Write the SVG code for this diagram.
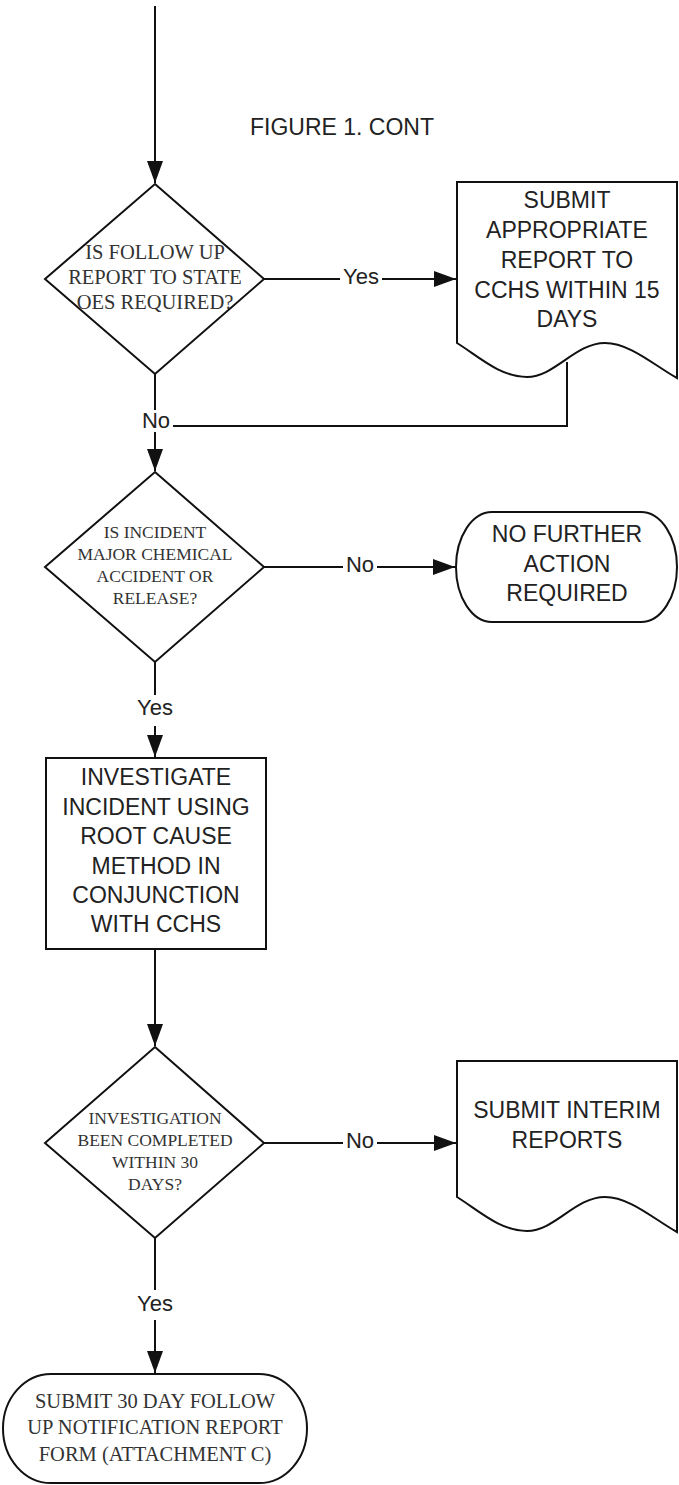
<svg xmlns="http://www.w3.org/2000/svg" width="679" height="1485" viewBox="0 0 679 1485">
<style>
.shape{fill:#fff;stroke:#111;stroke-width:2}
.conn{fill:none;stroke:#111;stroke-width:2}
.sans{font-family:"Liberation Sans",Arial,sans-serif;font-size:23px;fill:#222;text-anchor:middle}
.serif{font-family:"Liberation Serif","Times New Roman",serif;fill:#333;text-anchor:middle}
.lbl{font-family:"Liberation Sans",Arial,sans-serif;font-size:22px;fill:#222;text-anchor:middle}
.bg{fill:#fff}
</style>
<defs>
<marker id="arr" markerUnits="userSpaceOnUse" markerWidth="22" markerHeight="16" refX="22" refY="8" orient="auto">
<path d="M0,0 L22,8 L0,16 Z" fill="#111"/>
</marker>
</defs>
<rect width="679" height="1485" fill="#fff"/>
<text x="250" y="135" font-family="'Liberation Sans',Arial,sans-serif" font-size="23" fill="#222">FIGURE 1. CONT</text>

<g id="connectors">
<path class="conn" d="M155,6 V183" marker-end="url(#arr)"/>
<path class="conn" d="M264,279 H456" marker-end="url(#arr)"/>
<path class="conn" d="M567,362 V426 H155"/>
<path class="conn" d="M155,374 V471" marker-end="url(#arr)"/>
<path class="conn" d="M264,567 H455" marker-end="url(#arr)"/>
<path class="conn" d="M155,662 V757" marker-end="url(#arr)"/>
<path class="conn" d="M155,949 V1046" marker-end="url(#arr)"/>
<path class="conn" d="M264,1143 H456" marker-end="url(#arr)"/>
<path class="conn" d="M155,1238 V1373" marker-end="url(#arr)"/>
<rect class="bg" x="340" y="266" width="42" height="22"/>
<text class="lbl" x="361" y="284">Yes</text>
<rect class="bg" x="138" y="410" width="35" height="22"/>
<text class="lbl" x="156" y="428">No</text>
<rect class="bg" x="343" y="556" width="34" height="22"/>
<text class="lbl" x="360" y="572">No</text>
<rect class="bg" x="134" y="695" width="42" height="31"/>
<text class="lbl" x="155" y="715">Yes</text>
<rect class="bg" x="343" y="1132" width="34" height="22"/>
<text class="lbl" x="360" y="1148">No</text>
<rect class="bg" x="134" y="1290" width="42" height="30"/>
<text class="lbl" x="155" y="1311">Yes</text>
</g>

<g id="decision1">
<polygon class="shape" points="155,184 264,279 155,374 45,279"/>
<text class="serif" font-size="20.5"><tspan x="155" y="259">IS FOLLOW UP</tspan><tspan x="155" y="284">REPORT TO STATE</tspan><tspan x="155" y="309">OES REQUIRED?</tspan></text>
</g>

<g id="doc1">
<path class="shape" d="M457,182 H677 V378 C655,366 630,343 605,343 C575,343 555,377 527,377 C500,377 478,356 457,343 Z"/>
<text class="sans"><tspan x="567" y="208">SUBMIT</tspan><tspan x="567" y="238">APPROPRIATE</tspan><tspan x="567" y="268">REPORT TO</tspan><tspan x="567" y="298">CCHS WITHIN 15</tspan><tspan x="567" y="327">DAYS</tspan></text>
</g>

<g id="decision2">
<polygon class="shape" points="155,472 264,567 155,662 45,567"/>
<text class="serif" font-size="17.5"><tspan x="155" y="538">IS INCIDENT</tspan><tspan x="155" y="560">MAJOR CHEMICAL</tspan><tspan x="155" y="582">ACCIDENT OR</tspan><tspan x="155" y="604">RELEASE?</tspan></text>
</g>

<g id="terminal1">
<rect class="shape" x="456" y="512" width="221" height="110" rx="36" ry="55"/>
<text class="sans"><tspan x="567" y="542">NO FURTHER</tspan><tspan x="567" y="572">ACTION</tspan><tspan x="567" y="601">REQUIRED</tspan></text>
</g>

<g id="process1">
<rect class="shape" x="46" y="758" width="220" height="191"/>
<text class="sans"><tspan x="156" y="785">INVESTIGATE</tspan><tspan x="156" y="815">INCIDENT USING</tspan><tspan x="156" y="844">ROOT CAUSE</tspan><tspan x="156" y="874">METHOD IN</tspan><tspan x="156" y="903">CONJUNCTION</tspan><tspan x="156" y="932">WITH CCHS</tspan></text>
</g>

<g id="decision3">
<polygon class="shape" points="155,1047 264,1143 155,1238 45,1143"/>
<text class="serif" font-size="17.5"><tspan x="155" y="1124">INVESTIGATION</tspan><tspan x="155" y="1146">BEEN COMPLETED</tspan><tspan x="155" y="1168">WITHIN 30</tspan><tspan x="155" y="1190">DAYS?</tspan></text>
</g>

<g id="doc2">
<path class="shape" d="M457,1061 H677 V1232 C655,1220 630,1197 605,1197 C575,1197 555,1231 527,1231 C500,1231 478,1210 457,1197 Z"/>
<text class="sans"><tspan x="567" y="1118">SUBMIT INTERIM</tspan><tspan x="567" y="1148">REPORTS</tspan></text>
</g>

<g id="terminal2">
<rect class="shape" x="3" y="1374" width="304" height="109" rx="48" ry="54.5"/>
<text class="serif" font-size="20.5"><tspan x="155" y="1408">SUBMIT 30 DAY FOLLOW</tspan><tspan x="155" y="1434">UP NOTIFICATION REPORT</tspan><tspan x="155" y="1461">FORM (ATTACHMENT C)</tspan></text>
</g>
</svg>
